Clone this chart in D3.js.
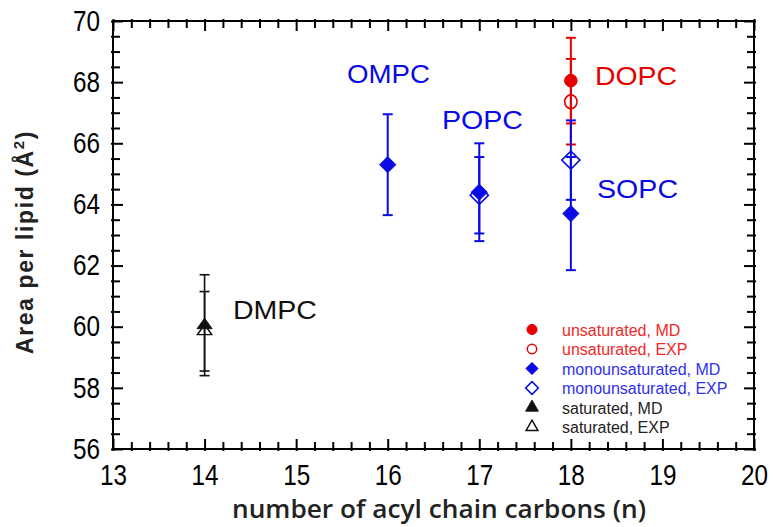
<!DOCTYPE html>
<html>
<head>
<meta charset="utf-8">
<script src="https://cdn.jsdelivr.net/npm/d3@7"></script>
<style>
  body { margin: 0; background: #fff; }
  svg { display: block; }
  .tick text { font-family: "Liberation Sans", Arial, sans-serif; font-size: 29px; fill: #000; }
</style>
</head>
<body>
<div id="chart"></div>
<script>
// area per lipid vs number of acyl chain carbons
const satN = [14];
const satMD = [60.05], satMDErr = [1.65];
const satEXP = [59.85], satEXPErr = [1.3];

const monoN = [16, 17, 18];
const monoMD = [65.3, 64.4, 63.7], monoMDErr = [1.65, 1.6, 1.85];
const monoEXP = [null, 64.3, 65.45], monoEXPErr = [null, 1.25, 1.3];

const unsatN = [18];
const unsatMD = [68.05], unsatMDErr = [1.4];
const unsatEXP = [67.36], unsatEXPErr = [1.4];

// lipid name labels, placed in data units
const labelNames = ["OMPC", "POPC", "DOPC", "SOPC", "DMPC"];
const labelN = [15.555, 16.593, 18.264, 18.286, 14.31];
const labelArea = [67.97, 66.47, 67.9, 64.21, 60.25];
const labelColors = ["#0a0ae6", "#0a0ae6", "#e60000", "#0a0ae6", "#111"];
const labelWidths = [83, 81, 82, 81, 84];

const legendLabels = ["unsaturated, MD", "unsaturated, EXP", "monounsaturated, MD",
                      "monounsaturated, EXP", "saturated, MD", "saturated, EXP"];

const xTicks = d3.range(13, 21);
const yTicks = d3.range(56, 71, 2);

const RED = "#e60000", BLUE = "#0a0ae6", BLACK = "#111";

const W = 773, H = 527;
const svg = d3.select("#chart").append("svg").attr("width", W).attr("height", H);

const x = d3.scaleLinear().domain([13, 20]).range([113, 754]);
const y = d3.scaleLinear().domain([56, 70]).range([449, 21]);

const xMinor = d3.range(0, 36).filter(i => i % 5 !== 0).map(i => 13 + i * 0.2);
const yMinor = d3.range(0, 29).filter(i => i % 4 !== 0).map(i => 56 + i * 0.5);

function styleAxis(g, attr, v) {
  g.select(".domain").remove();
  g.selectAll(".tick line").attr("stroke", "#000").attr("stroke-width", 2).attr(attr, v);
  // condensed digits like the original
  g.selectAll(".tick text")
    .attr("textLength", function() { return this.textContent.length * 13.5; })
    .attr("lengthAdjust", "spacingAndGlyphs");
}

// bottom
svg.append("g").attr("transform", "translate(0,449)")
  .call(d3.axisBottom(x).tickValues(xTicks).tickSize(-10).tickPadding(15).tickFormat(d3.format("d")))
  .call(g => styleAxis(g, "y1", 2));
svg.append("g").attr("transform", "translate(0,449)")
  .call(d3.axisBottom(x).tickValues(xMinor).tickSize(-7).tickFormat(""))
  .call(g => styleAxis(g, "y1", 2));
// top
svg.append("g").attr("transform", "translate(0,21)")
  .call(d3.axisTop(x).tickValues(xTicks).tickSize(-10).tickFormat(""))
  .call(g => styleAxis(g, "y1", -2));
svg.append("g").attr("transform", "translate(0,21)")
  .call(d3.axisTop(x).tickValues(xMinor).tickSize(-7).tickFormat(""))
  .call(g => styleAxis(g, "y1", -2));
// left
svg.append("g").attr("transform", "translate(113,0)")
  .call(d3.axisLeft(y).tickValues(yTicks).tickSize(-10).tickPadding(13).tickFormat(d3.format("d")))
  .call(g => styleAxis(g, "x1", -2));
svg.append("g").attr("transform", "translate(113,0)")
  .call(d3.axisLeft(y).tickValues(yMinor).tickSize(-7).tickFormat(""))
  .call(g => styleAxis(g, "x1", -2));
// right
svg.append("g").attr("transform", "translate(754,0)")
  .call(d3.axisRight(y).tickValues(yTicks).tickSize(-10).tickFormat(""))
  .call(g => styleAxis(g, "x1", 2));
svg.append("g").attr("transform", "translate(754,0)")
  .call(d3.axisRight(y).tickValues(yMinor).tickSize(-7).tickFormat(""))
  .call(g => styleAxis(g, "x1", 2));

svg.append("rect")
  .attr("x", 113).attr("y", 21).attr("width", 754 - 113).attr("height", 449 - 21)
  .attr("fill", "none").attr("stroke", "#000").attr("stroke-width", 2);

// axis titles
svg.append("text")
  .attr("x", 439).attr("y", 518)
  .attr("text-anchor", "middle")
  .attr("font-family", "'Open Sans', 'Liberation Sans', sans-serif")
  .attr("font-weight", 600).attr("font-size", 26)
  .attr("textLength", 414).attr("lengthAdjust", "spacingAndGlyphs")
  .attr("fill", "#222")
  .text("number of acyl chain carbons (n)");

const yt = svg.append("text")
  .attr("transform", "translate(33,242) rotate(-90)")
  .attr("text-anchor", "middle")
  .attr("font-family", "'Liberation Sans', Arial, sans-serif")
  .attr("font-weight", "bold").attr("font-size", 23)
  .attr("letter-spacing", 1.6)
  .attr("fill", "#222");
yt.append("tspan").text("Area per lipid (Å");
yt.append("tspan").attr("font-size", 15).attr("dy", -9).text("2");
yt.append("tspan").attr("dy", 9).text(")");

// error bars + markers
const plot = svg.append("g");

function errorBars(ns, vals, errs, color, sw) {
  const pts = ns.map((n, i) => ({n, v: vals[i], e: errs[i]})).filter(d => d.v != null);
  const g = plot.append("g").attr("stroke", color).attr("stroke-width", sw);
  g.selectAll("line.v").data(pts).join("line")
    .attr("x1", d => x(d.n)).attr("x2", d => x(d.n))
    .attr("y1", d => y(d.v - d.e)).attr("y2", d => y(d.v + d.e));
  g.selectAll("line.lo").data(pts).join("line")
    .attr("x1", d => x(d.n) - 5).attr("x2", d => x(d.n) + 5)
    .attr("y1", d => y(d.v - d.e)).attr("y2", d => y(d.v - d.e));
  g.selectAll("line.hi").data(pts).join("line")
    .attr("x1", d => x(d.n) - 5).attr("x2", d => x(d.n) + 5)
    .attr("y1", d => y(d.v + d.e)).attr("y2", d => y(d.v + d.e));
}

function markers(ns, vals, type, size, color, filled, rot, sy) {
  const pts = ns.map((n, i) => ({n, v: vals[i]})).filter(d => d.v != null);
  plot.append("g").selectAll("path").data(pts).join("path")
    .attr("d", d3.symbol().type(type).size(size))
    .attr("transform", d => `translate(${x(d.n)},${y(d.v)}) rotate(${rot}) scale(1,${sy})`)
    .attr("fill", filled ? color : "none")
    .attr("stroke", color).attr("stroke-width", filled ? 1 : 1.6);
}

errorBars(satN, satEXP, satEXPErr, BLACK, 1.6);
errorBars(satN, satMD, satMDErr, BLACK, 1.6);
errorBars(unsatN, unsatEXP, unsatEXPErr, RED, 2);
errorBars(unsatN, unsatMD, unsatMDErr, RED, 2);
errorBars(monoN, monoEXP, monoEXPErr, BLUE, 2);
errorBars(monoN, monoMD, monoMDErr, BLUE, 2);

markers(satN, satEXP, d3.symbolTriangle, 90, BLACK, false, 0, 0.8);
markers(satN, satMD, d3.symbolTriangle, 100, BLACK, true, 0, 0.8);
markers(unsatN, unsatEXP, d3.symbolCircle, 120, RED, false, 0, 1.1);
markers(unsatN, unsatMD, d3.symbolCircle, 125, RED, true, 0, 1);
markers(monoN, monoEXP, d3.symbolSquare, 165, BLUE, false, 45, 1);
markers(monoN, monoMD, d3.symbolSquare, 125, BLUE, true, 45, 1);

// lipid labels
svg.append("g").selectAll("text").data(labelNames).join("text")
  .attr("x", (d, i) => x(labelN[i])).attr("y", (d, i) => y(labelArea[i]))
  .attr("font-family", "'Liberation Sans', Arial, sans-serif")
  .attr("font-size", 26)
  .attr("textLength", (d, i) => labelWidths[i]).attr("lengthAdjust", "spacingAndGlyphs")
  .attr("fill", (d, i) => labelColors[i])
  .text(d => d);

// legend
const legColors = [RED, RED, BLUE, BLUE, BLACK, BLACK];
const legTypes = [d3.symbolCircle, d3.symbolCircle, d3.symbolSquare, d3.symbolSquare, d3.symbolTriangle, d3.symbolTriangle];
const legSizes = [80, 70, 70, 80, 70, 60];
const legRot = [0, 0, 45, 45, 0, 0];
const legend = svg.append("g").attr("transform", "translate(532,329.5)");
const rows = legend.selectAll("g").data(legendLabels).join("g")
  .attr("transform", (d, i) => `translate(0,${i * 19.5})`);
rows.append("path")
  .attr("d", (d, i) => d3.symbol().type(legTypes[i]).size(legSizes[i])())
  .attr("transform", (d, i) => `rotate(${legRot[i]})`)
  .attr("fill", (d, i) => i % 2 === 0 ? legColors[i] : "none")
  .attr("stroke", (d, i) => legColors[i])
  .attr("stroke-width", (d, i) => i % 2 === 0 ? 1 : 1.5);
rows.append("text")
  .attr("x", 30).attr("y", 6)
  .attr("font-family", "'Liberation Sans', Arial, sans-serif")
  .attr("font-size", 16)
  .attr("fill", (d, i) => i < 2 ? "#f02828" : i < 4 ? "#3030f0" : "#222")
  .text(d => d);
</script>
</body>
</html>
